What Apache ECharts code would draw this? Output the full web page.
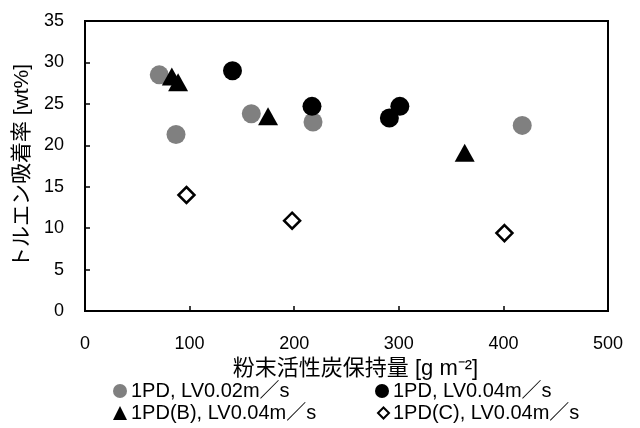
<!DOCTYPE html>
<html>
<head>
<meta charset="utf-8">
<script src="https://cdn.jsdelivr.net/npm/echarts@6/dist/echarts.min.js"></script>
<style>
  html, body { margin: 0; padding: 0; background: #fff; }
  #chart { width: 640px; height: 428px; }
</style>
</head>
<body>
<div id="chart"></div>
<script>
// 粉末活性炭保持量 [g m-2] と トルエン吸着率 [wt%]
const seriesNames = [
  "1PD, LV0.02m／s",
  "1PD, LV0.04m／s",
  "1PD(B), LV0.04m／s",
  "1PD(C), LV0.04m／s",
];
const lv002 = [[71, 28.5], [87, 21.3], [159, 23.8], [218, 22.8], [418, 22.4]];
const lv004 = [[141, 29.0], [217, 24.7], [291, 23.3], [301, 24.7]];
const pdB = [[83, 28.3], [89, 27.6], [175, 23.5], [363, 19.1]];
const pdC = [[97, 14.0], [198, 10.9], [401, 9.4]];

const xTicks = { min: 0, max: 500, interval: 100 };
const yTicks = { min: 0, max: 35, interval: 5 };

const font = "'Liberation Sans', 'Noto Sans CJK JP', sans-serif";

// 凡例は2列x2行 (左列: 0,2 / 右列: 1,3)
const legendPos = [
  { left: 113, top: 381, size: 14 },
  { left: 375, top: 381, size: 14 },
  { left: 113, top: 403, size: 14 },
  { left: 377, top: 403, size: 11 },
];

const chart = echarts.init(document.getElementById("chart"));
chart.setOption({
  animation: false,
  textStyle: { fontFamily: font, color: "#000" },
  grid: {
    left: 85,
    right: 32,
    top: 21,
    height: 290,
    show: true,
    borderColor: "#000",
    borderWidth: 2,
    backgroundColor: "transparent",
  },
  legend: seriesNames.map((name, i) => ({
    left: legendPos[i].left,
    top: legendPos[i].top,
    padding: 0,
    itemWidth: legendPos[i].size,
    itemHeight: legendPos[i].size,
    itemGap: 0,
    textStyle: { fontFamily: font, fontSize: 20, color: "#000", padding: [0, 0, 0, -1] },
    data: [name],
  })),
  xAxis: {
    type: "value",
    min: xTicks.min,
    max: xTicks.max,
    interval: xTicks.interval,
    name: "粉末活性炭保持量 [g m⁻²]",
    nameLocation: "middle",
    nameGap: 40,
    nameTextStyle: { fontFamily: font, fontSize: 22, color: "#000", padding: [0, 0, 0, 18] },
    axisLine: { lineStyle: { color: "#000", width: 2 } },
    axisTick: { inside: true, length: 5, lineStyle: { color: "#000", width: 1.5 } },
    axisLabel: { fontFamily: font, fontSize: 18, color: "#000", margin: 24 },
    splitLine: { show: false },
  },
  yAxis: {
    type: "value",
    min: yTicks.min,
    max: yTicks.max,
    interval: yTicks.interval,
    name: "トルエン吸着率 [wt%]",
    nameLocation: "middle",
    nameGap: 45,
    nameTextStyle: { fontFamily: font, fontSize: 21, color: "#000" },
    axisLine: { lineStyle: { color: "#000", width: 2 } },
    axisTick: { inside: true, length: 5, lineStyle: { color: "#000", width: 1.5 } },
    axisLabel: { fontFamily: font, fontSize: 18, color: "#000", margin: 21 },
    splitLine: { show: false },
  },
  series: [
    {
      name: seriesNames[0],
      type: "scatter",
      symbol: "circle",
      symbolSize: 19,
      itemStyle: { color: "#808080", opacity: 1 },
      data: lv002,
    },
    {
      name: seriesNames[1],
      type: "scatter",
      symbol: "circle",
      symbolSize: 19,
      itemStyle: { color: "#000", opacity: 1 },
      data: lv004,
    },
    {
      name: seriesNames[2],
      type: "scatter",
      symbol: "triangle",
      symbolSize: [20, 18],
      itemStyle: { color: "#000", opacity: 1 },
      data: pdB,
    },
    {
      name: seriesNames[3],
      type: "scatter",
      symbol: "diamond",
      symbolSize: [16, 16],
      itemStyle: { color: "#fff", borderColor: "#000", borderWidth: 2.5, opacity: 1 },
      data: pdC,
    },
  ],
});
</script>
</body>
</html>
